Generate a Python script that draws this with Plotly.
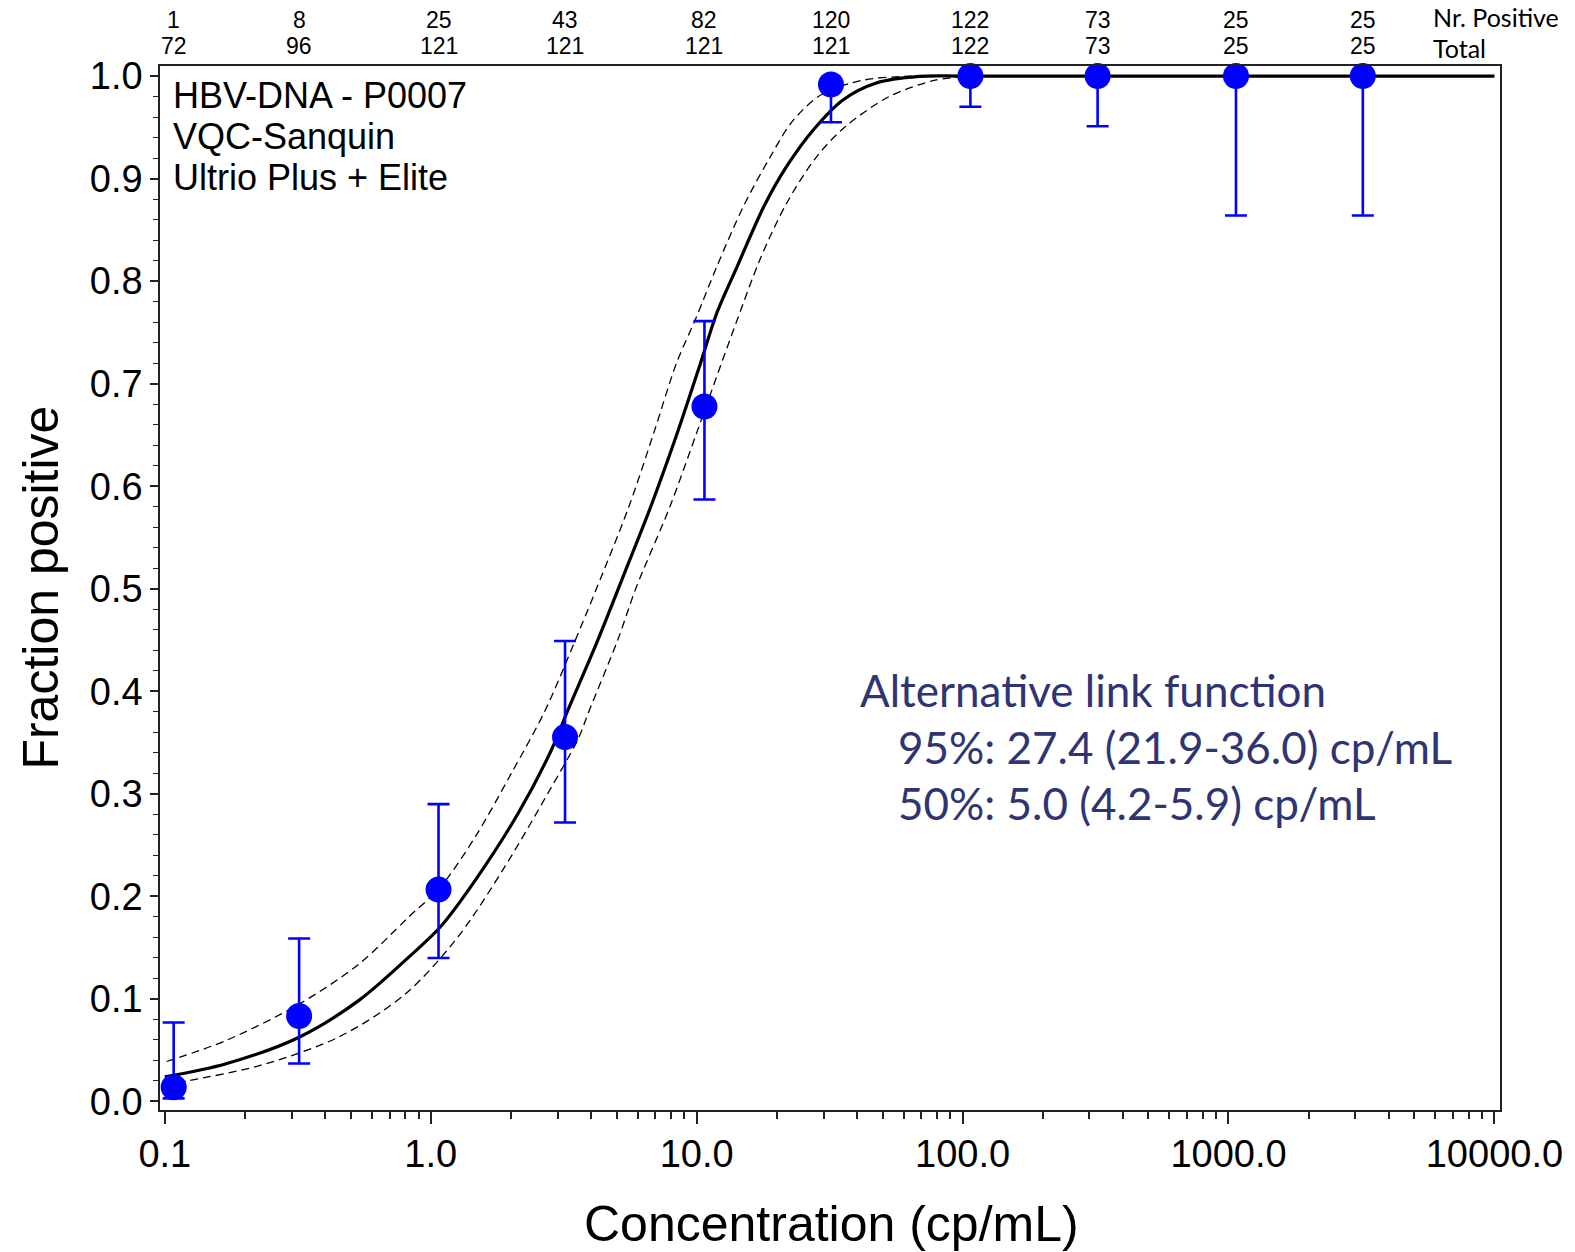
import math
import plotly.graph_objects as go

# ---------------- data ----------------
conc = [0.108, 0.32, 1.07, 3.2, 10.7, 32.0, 107.0, 322.0, 1067.0, 3200.0]
n_pos = [1, 8, 25, 43, 82, 120, 122, 73, 25, 25]
n_tot = [72, 96, 121, 121, 121, 121, 122, 73, 25, 25]
frac = [p / t for p, t in zip(n_pos, n_tot)]
ci_low = [0.003, 0.037, 0.140, 0.272, 0.587, 0.955, 0.970, 0.951, 0.864, 0.864]
ci_high = [0.077, 0.159, 0.290, 0.449, 0.761, 0.992, 1.0, 1.0, 1.0, 1.0]

fit_x = [0.100, 0.170, 0.320, 0.537, 0.827, 1.086, 1.47, 2.13, 2.84, 3.28, 4.25, 5.35,
         6.72, 8.45, 10.34, 11.9, 14.2, 17.9, 21.8, 27.5, 35.6, 47.4, 68.8, 100.0, 10000.0]
fit_y = [0.024, 0.0368, 0.0627, 0.0986, 0.1408, 0.1701, 0.2157, 0.2808, 0.3425, 0.3816, 0.4499, 0.515,
         0.580, 0.6516, 0.7199, 0.7687, 0.8142, 0.8727, 0.9118, 0.9476, 0.9769, 0.9932, 0.9996, 1.0, 1.0]

upper_x = [0.1016, 0.170, 0.320, 0.537, 0.827, 1.086, 1.47, 2.01, 2.69, 3.50, 4.20, 5.56,
           6.90, 8.40, 9.98, 11.9, 15.0, 18.9, 23.1, 29.9, 42.3, 59.0, 90.0]
upper_y = [0.039, 0.0595, 0.095, 0.134, 0.180, 0.209, 0.258, 0.320, 0.381, 0.450, 0.500, 0.580,
           0.652, 0.720, 0.765, 0.814, 0.873, 0.921, 0.957, 0.983, 0.996, 0.9995, 1.0]

lower_x = [0.100, 0.124, 0.227, 0.452, 0.804, 1.27, 1.90, 2.80, 3.59, 3.95, 5.05, 5.90,
           7.93, 10.0, 12.4, 14.2, 17.3, 21.8, 28.2, 36.0, 53.0, 79.0, 110.0]
lower_y = [0.016, 0.0205, 0.035, 0.063, 0.105, 0.161, 0.229, 0.3035, 0.354, 0.3816, 0.450, 0.500,
           0.580, 0.652, 0.720, 0.762, 0.821, 0.876, 0.921, 0.950, 0.980, 0.996, 1.0]

x_tickvals = [0.1, 1, 10, 100, 1000, 10000]
x_ticktext = ["0.1", "1.0", "10.0", "100.0", "1000.0", "10000.0"]

info_lines = ["HBV-DNA - P0007", "VQC-Sanquin", "Ultrio Plus + Elite"]
result_lines = ["Alternative link function",
                "95%: 27.4 (21.9-36.0) cp/mL",
                "50%: 5.0 (4.2-5.9) cp/mL"]

# ---------------- figure ----------------
W, H = 1575, 1252
L, R, T, B = 160, 68, 66, 142
plot_w = W - L - R
plot_h = H - T - B

def px_x(px):
    return (px - L) / plot_w

def px_y(py):
    return (H - B - py) / plot_h

fig = go.Figure()

dash_style = dict(color="black", width=1.3, dash="8px,5px", shape="spline", smoothing=0.9)
fig.add_trace(go.Scatter(x=upper_x, y=upper_y, mode="lines", line=dash_style, hoverinfo="skip"))
fig.add_trace(go.Scatter(x=lower_x, y=lower_y, mode="lines", line=dash_style, hoverinfo="skip"))
fig.add_trace(go.Scatter(x=fit_x, y=fit_y, mode="lines",
                         line=dict(color="black", width=3.2, shape="spline", smoothing=0.9),
                         hoverinfo="skip"))

# error bars (drawn first) then markers on top
fig.add_trace(go.Scatter(
    x=conc, y=frac, mode="markers",
    marker=dict(size=1, color="rgba(0,0,0,0)"),
    error_y=dict(type="data", symmetric=False,
                 array=[h - f for h, f in zip(ci_high, frac)],
                 arrayminus=[f - l for f, l in zip(frac, ci_low)],
                 color="#0000FF", thickness=2.6, width=11),
    cliponaxis=False, hoverinfo="skip"))
fig.add_trace(go.Scatter(
    x=conc, y=frac, mode="markers",
    marker=dict(size=26, color="#0000FF", line=dict(width=0)),
    cliponaxis=False))

annotations = []
arial = "Liberation Sans, Arial, sans-serif"
count_font = dict(family=arial, size=23, color="black")
for c, p, t in zip(conc, n_pos, n_tot):
    annotations.append(dict(x=math.log10(c), y=px_y(19.5), xref="x", yref="paper",
                            text=str(p), showarrow=False, font=count_font,
                            xanchor="center", yanchor="middle"))
    annotations.append(dict(x=math.log10(c), y=px_y(46.5), xref="x", yref="paper",
                            text=str(t), showarrow=False, font=count_font,
                            xanchor="center", yanchor="middle"))

label_font = dict(family="Lato, Noto Sans, sans-serif", size=25, color="black")
annotations.append(dict(x=px_x(1438), y=px_y(17), xref="paper", yref="paper",
                        text="Nr. Positive", showarrow=False, font=label_font,
                        xanchor="left", yanchor="middle"))
annotations.append(dict(x=px_x(1438), y=px_y(48), xref="paper", yref="paper",
                        text="Total", showarrow=False, font=label_font,
                        xanchor="left", yanchor="middle"))

for i, line in enumerate(info_lines):
    annotations.append(dict(x=px_x(171), y=px_y(95.5 + 41 * i), xref="paper", yref="paper",
                            text=line, showarrow=False,
                            font=dict(family=arial, size=36, color="black"),
                            xanchor="left", yanchor="middle"))

res_color = "#2F3472"
res_x = [862, 900, 900]
res_y = [690, 747, 803]
for line, rx, ry in zip(result_lines, res_x, res_y):
    annotations.append(dict(x=px_x(rx), y=px_y(ry), xref="paper", yref="paper",
                            text=line, showarrow=False,
                            font=dict(family="Lato, Noto Sans, sans-serif", size=44, color=res_color),
                            xanchor="left", yanchor="middle"))

# axis titles
annotations.append(dict(x=px_x(835), y=px_y(1224), xref="paper", yref="paper",
                        text="Concentration (cp/mL)", showarrow=False,
                        font=dict(family=arial, size=50, color="black"),
                        xanchor="center", yanchor="middle"))
annotations.append(dict(x=px_x(40), y=px_y(588), xref="paper", yref="paper",
                        text="Fraction positive", showarrow=False, textangle=-90,
                        font=dict(family=arial, size=50, color="black"),
                        xanchor="center", yanchor="middle"))

minor_x = [m * 10 ** d for d in range(-1, 4) for m in range(2, 10)]

fig.update_layout(
    width=W, height=H,
    margin=dict(l=L, r=R, t=T, b=B, pad=0),
    paper_bgcolor="white", plot_bgcolor="white",
    showlegend=False,
    annotations=annotations,
    xaxis=dict(type="log", range=[-1.018, 4.021],
               tickmode="array", tickvals=x_tickvals, ticktext=x_ticktext,
               ticks="outside", ticklen=12, tickwidth=1.5, tickcolor="#222",
               minor=dict(tickmode="array", tickvals=minor_x, ticks="outside",
                          ticklen=7, tickwidth=1.5, tickcolor="#222"),
               showline=True, linecolor="#222", linewidth=1.5, mirror=True,
               showgrid=False, zeroline=False,
               tickfont=dict(family=arial, size=38, color="black"),
               ticklabelstandoff=-2),
    yaxis=dict(range=[-0.0083, 1.0098],
               tickmode="linear", tick0=0, dtick=0.1, tickformat=".1f",
               ticks="outside", ticklen=8, tickwidth=1.5, tickcolor="#222",
               minor=dict(dtick=0.02, tick0=0, ticks="outside", ticklen=5,
                          tickwidth=1.2, tickcolor="#222"),
               showline=True, linecolor="#222", linewidth=1.5, mirror=True,
               showgrid=False, zeroline=False,
               tickfont=dict(family=arial, size=38, color="black")),
)

fig.write_html("out.html")
